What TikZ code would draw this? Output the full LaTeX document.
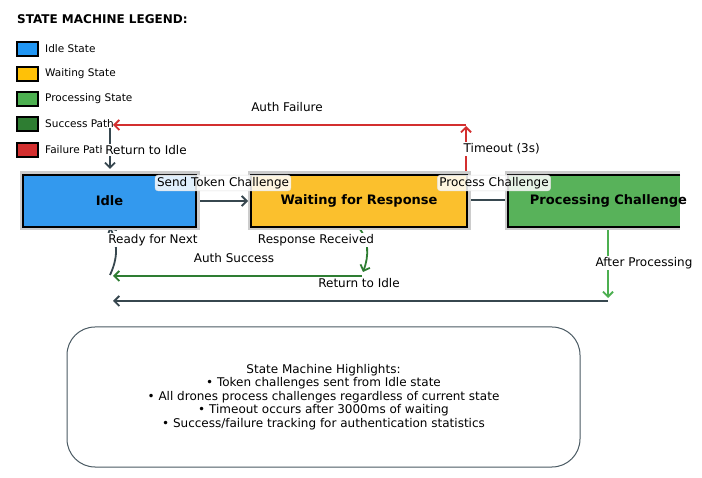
\documentclass[tikz,border=0pt]{standalone}
\usepackage{fontspec}
\setmainfont{DejaVu Sans}
\usetikzlibrary{arrows.meta}
\definecolor{idleblue}{HTML}{3399EE}
\definecolor{waityellow}{HTML}{FBC02D}
\definecolor{procgreen}{HTML}{58B25A}
\definecolor{lgblue}{HTML}{2196F3}
\definecolor{lgyellow}{HTML}{FFC107}
\definecolor{lggreen}{HTML}{4CAF50}
\definecolor{darkgreen}{HTML}{2E7D32}
\definecolor{failred}{HTML}{D32F2F}
\definecolor{slate}{HTML}{37474F}
\definecolor{boxedge}{HTML}{4A5A63}
\pgfdeclarelayer{background}
\pgfdeclarelayer{canvas}
\pgfsetlayers{canvas,background,main}
\begin{document}
\begin{tikzpicture}[x=1pt,y=-1pt,
  lgbox/.style={draw=black, line width=1.2pt, minimum width=21pt, minimum height=14pt, inner sep=0pt},
  lgtext/.style={anchor=west, font=\fontsize{10.5}{12}\selectfont, inner sep=0pt},
  state/.style={draw=black, line width=2pt, minimum height=52pt, inner sep=0pt,
    font=\fontsize{13}{15}\selectfont\bfseries,
    preaction={draw=black!20, line width=7pt}},
  lbl/.style={font=\fontsize{12}{13.5}\selectfont, fill=white, inner sep=1.5pt},
  tag/.style={font=\fontsize{12}{13.5}\selectfont, inner sep=2pt, rounded corners=3pt,
    fill=white, fill opacity=0.85, text opacity=1, draw=black!12},
  conn/.style={line width=1.8pt, -{Straight Barb[length=5pt,width=10pt]}}
]
\useasboundingbox (0,0) rectangle (702,478);
\begin{pgfonlayer}{canvas}
\fill[white] (0,0) rectangle (702,478);
\end{pgfonlayer}

% legend
\node[anchor=west, inner sep=0pt, font=\fontsize{12}{14}\selectfont\bfseries] (ttl) at (17,19) {STATE MACHINE LEGEND:};
\node[lgbox, fill=lgblue] (l1) at (27.5,49) {};
\node[lgtext] (t1) at (45,49) {Idle State};
\node[lgbox, fill=lgyellow] (l2) at (27.5,74) {};
\node[lgtext] (t2) at (45,74) {Waiting State};
\node[lgbox, fill=lggreen] (l3) at (27.5,99) {};
\node[lgtext] (t3) at (45,99) {Processing State};
\node[lgbox, fill=darkgreen] (l4) at (27.5,124) {};
\node[lgtext] (t4) at (45,124) {Success Path};
\node[lgbox, fill=failred] (l5) at (27.5,150) {};
\node[lgtext] (t5) at (45,150) {Failure Path};

% states
\node[state, fill=idleblue, minimum width=173pt] (idle) at (109.5,201) {Idle};
\node[state, fill=waityellow, minimum width=216pt] (wait) at (359,201) {Waiting for Response};
\draw[black!20, line width=7pt] (680,175) -- (508,175) -- (508,227) -- (680,227);
\fill[procgreen] (508,175) rectangle (680,227);
\draw[black, line width=2pt] (680,175) -- (508,175) -- (508,227) -- (680,227);
\node[inner sep=0pt, font=\fontsize{13}{15}\selectfont\bfseries] (proc) at (608.5,201) {Processing Challenge};

% free ends
\coordinate (toA) at (466,175);
\coordinate (toB) at (466,126);
\coordinate (faA) at (466,125);
\coordinate (faB) at (113,125);
\coordinate (riA) at (110,128);
\coordinate (rnA) at (110,275);
\coordinate (asB) at (363,272);
\coordinate (gA) at (362,276);
\coordinate (gB) at (113,276);
\coordinate (apA) at (608,228);
\coordinate (apB) at (608,298);
\coordinate (dA) at (608,301);
\coordinate (dB) at (113,301);
\coordinate (pcA) at (467,200);
\coordinate (pcB) at (516,200);

\begin{pgfonlayer}{background}
\draw[conn, slate] (idle.east) -- ([xshift=-2pt]wait.west);
\draw[conn, slate] (pcA) -- (pcB);
\draw[conn, failred] (toA) -- (toB);
\draw[conn, failred] (faA) -- (faB);
\draw[conn, slate] (riA) -- ([xshift=0.5pt,yshift=5pt]idle.north);
\draw[conn, slate] (rnA) .. controls (118,258) and (118,243) .. ([yshift=1pt]idle.south);
\draw[conn, darkgreen] (wait.south) .. controls (369,240) and (369,256) .. (asB);
\draw[conn, darkgreen] (gA) -- (gB);
\draw[conn, lggreen] (apA) -- (apB);
\draw[conn, slate] (dA) -- (dB);
\end{pgfonlayer}

% labels
\node[tag] (lsend) at (223,183) {Send Token Challenge};
\node[tag] (lproc) at (494,183) {Process Challenge};
\node[lbl, anchor=west] (ltime) at (462,149) {Timeout (3s)};
\node[font=\fontsize{12}{13.5}\selectfont, inner sep=0pt] (lfail) at (287,107) {Auth Failure};
\node[lbl, inner xsep=3pt] (lret1) at (146,150) {Return to Idle};
\node[lbl] (lready) at (153,240) {Ready for Next};
\node[lbl] (lresp) at (316,240) {Response Received};
\node[font=\fontsize{12}{13.5}\selectfont, inner sep=0pt] (lsucc) at (234,258) {Auth Success};
\node[lbl] (lret2) at (359,283) {Return to Idle};
\node[lbl] (lafter) at (644,263) {After Processing};

% highlights
\node[draw=boxedge, line width=1pt, rounded corners=28pt, minimum width=513pt, minimum height=140pt,
  align=center, font=\fontsize{12}{13.5}\selectfont] (hl) at (323.5,397)
  {State Machine Highlights:\\
   • Token challenges sent from Idle state\\
   • All drones process challenges regardless of current state\\
   • Timeout occurs after 3000ms of waiting\\
   • Success/failure tracking for authentication statistics};
\end{tikzpicture}
\end{document}
